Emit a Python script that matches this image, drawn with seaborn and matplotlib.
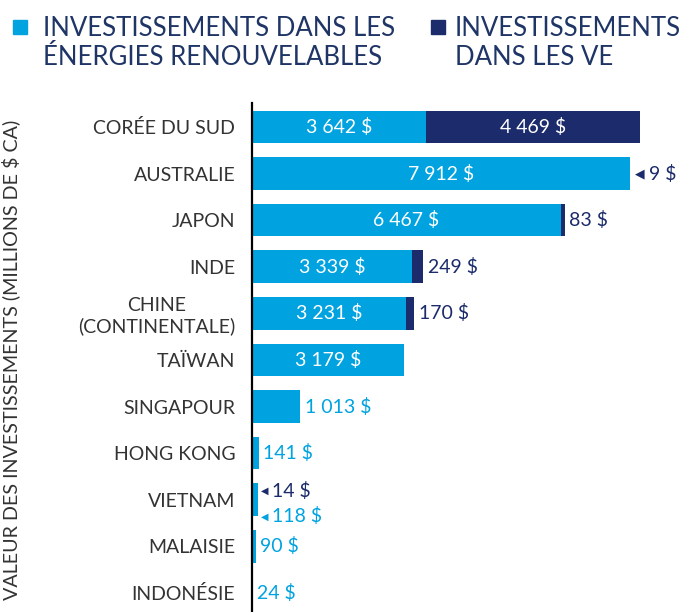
import matplotlib.pyplot as plt
from matplotlib.patches import Rectangle
import numpy as np
import pandas as pd
import seaborn as sns

countries = ['CORÉE DU SUD', 'AUSTRALIE', 'JAPON', 'INDE', 'CHINE\n(CONTINENTALE)',
             'TAÏWAN', 'SINGAPOUR', 'HONG KONG', 'VIETNAM', 'MALAISIE', 'INDONÉSIE']
renewables = [3642, 7912, 6467, 3339, 3231, 3179, 1013, 141, 118, 90, 24]
ev = [4469, 9, 83, 249, 170, 0, 0, 0, 14, 0, 0]

light = '#00a3e0'
navy = '#1b2b6b'
txt = '#333333'
fs = 14

df = pd.DataFrame({'country': countries, 'renew': renewables, 'ev': ev})
df['total'] = df['renew'] + df['ev']

sns.set_style('white')
plt.rcParams['font.family'] = ['Lato', 'DejaVu Sans']

fig = plt.figure(figsize=(6.94, 6.12), dpi=100)
ax = fig.add_axes([252 / 694, 0, 430 / 694, 509 / 612])

# total bar underneath, renewables drawn on top -> stacked look
sns.barplot(data=df, x='total', y='country', color=navy, width=0.7,
            saturation=1, linewidth=0, ax=ax, orient='h')
sns.barplot(data=df, x='renew', y='country', color=light, width=0.7,
            saturation=1, linewidth=0, ax=ax, orient='h')

ax.set_xlim(0, 9000)
ax.set_ylim(10.41, -0.515)
ax.set_xlabel('')
ax.set_ylabel('VALEUR DES INVESTISSEMENTS (MILLIONS DE $ CA)', fontsize=14.2,
              color=txt)
ax.yaxis.set_label_coords(-0.54, 0.495)
ax.set_xticks([])
ax.tick_params(axis='y', length=0, pad=12, labelsize=fs, labelcolor=txt)
for lab in ax.get_yticklabels():
    lab.set_multialignment('center')
for s in ['top', 'right', 'bottom']:
    ax.spines[s].set_visible(False)
ax.spines['left'].set_color('black')
ax.spines['left'].set_linewidth(1.6)


def fmt(v):
    return f'{v:,}'.replace(',', ' ') + ' $'


for i, row in df.iterrows():
    r, e, t = row['renew'], row['ev'], row['total']
    name = row['country']
    if name == 'VIETNAM':
        for val, col, dy in [(e, navy, 6.5), (r, light, -12)]:
            ax.annotate('◀', (t, i), xytext=(2, dy), textcoords='offset points',
                        va='center', ha='left', fontsize=7, color=col,
                        family=['DejaVu Sans'])
            ax.annotate(fmt(val), (t, i), xytext=(10, dy), textcoords='offset points',
                        va='center', ha='left', fontsize=fs, color=col)
        continue
    if r > 2000:
        ax.text(r / 2, i, fmt(r), ha='center', va='center', color='white', fontsize=fs)
    else:
        ax.annotate(fmt(r), (t, i), xytext=(3, 0), textcoords='offset points',
                    va='center', ha='left', fontsize=fs, color=light)
    if e > 2000:
        ax.text(r + e / 2, i, fmt(e), ha='center', va='center', color='white', fontsize=fs)
    elif e > 0 and e < 50:
        ax.annotate('◀', (t, i), xytext=(3.5, 0), textcoords='offset points',
                    va='center', ha='left', fontsize=9, color=navy,
                    family=['DejaVu Sans'])
        ax.annotate(fmt(e), (t, i), xytext=(13.5, 0), textcoords='offset points',
                    va='center', ha='left', fontsize=fs, color=navy)
    elif e > 0:
        ax.annotate(fmt(e), (t, i), xytext=(3, 0), textcoords='offset points',
                    va='center', ha='left', fontsize=fs, color=navy)

# legend
legend_col = '#1f3566'
fig.add_artist(Rectangle((13 / 694, 1 - 34 / 612), 14 / 694, 14 / 612,
                         transform=fig.transFigure, color=light))
fig.text(43 / 694, 1 - 16 / 612, 'INVESTISSEMENTS DANS LES\nÉNERGIES RENOUVELABLES',
         ha='left', va='top', fontsize=18.5, color=legend_col, linespacing=1.2)
fig.add_artist(Rectangle((431 / 694, 1 - 34 / 612), 14 / 694, 14 / 612,
                         transform=fig.transFigure, color=navy))
fig.text(455 / 694, 1 - 16 / 612, 'INVESTISSEMENTS\nDANS LES VE',
         ha='left', va='top', fontsize=18.5, color=legend_col, linespacing=1.2)

fig.savefig('out.png', dpi=100)
